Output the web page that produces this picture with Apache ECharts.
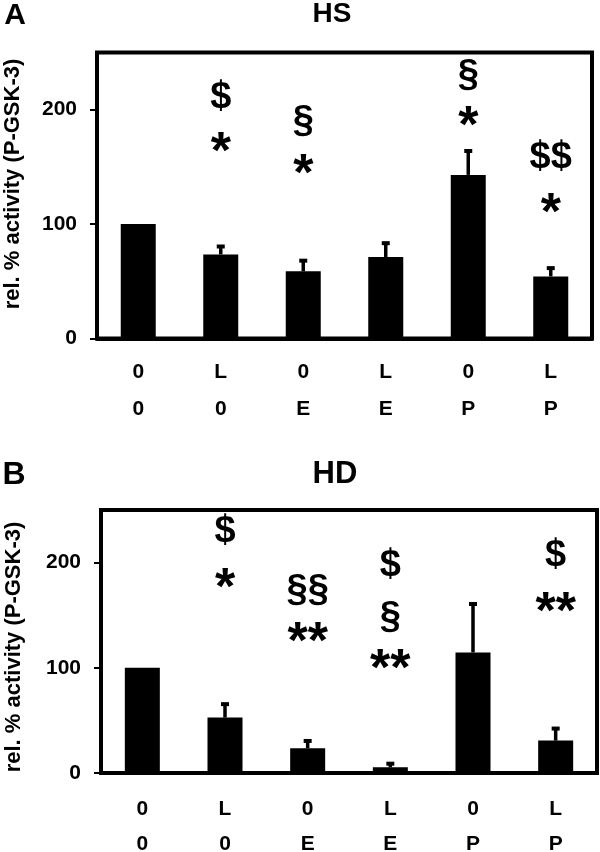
<!DOCTYPE html>
<html>
<head>
<meta charset="utf-8">
<script src="https://cdn.jsdelivr.net/npm/echarts@6/dist/echarts.min.js"></script>
<style>
  html, body { margin: 0; padding: 0; background: #fff; }
  #chart { width: 600px; height: 852px; }
</style>
</head>
<body>
<div id="chart"></div>
<script>
// x labels, two rows under each bar
const row1 = ['0', 'L', '0', 'L', '0', 'L'];
const row2 = ['0', '0', 'E', 'E', 'P', 'P'];
const yTicks = [0, 100, 200];

// panel A (HS)
const hsMean = [100, 73.5, 58.7, 71.2, 143, 54.3];
const hsSem = [0, 7.8, 10.2, 13, 21.8, 8.1];
const hsMarkCat = [1, 1, 2, 2, 4, 4, 5, 5];
const hsMarkText = ['$', '*', '§', '*', '§', '*', '$$', '*'];
const hsMarkY = [211, 172, 190, 153, 230, 195, 158, 119];

// panel B (HD)
const hdMean = [100, 52.7, 23.5, 5.4, 114.6, 30.8];
const hdSem = [0, 13.7, 7.9, 4.4, 47, 12.4];
const hdMarkCat = [1, 1, 2, 2, 3, 3, 3, 5, 5];
const hdMarkText = ['$', '*', '§§', '**', '$', '§', '**', '$', '**'];
const hdMarkY = [230, 186, 173, 134, 197, 148, 109, 207, 163];

const FONT = '"Liberation Sans", Arial, sans-serif';
const cats = row1.map((a, i) => a + '\n' + row2[i]);

const chart = echarts.init(document.getElementById('chart'), null, { renderer: 'canvas' });

// whisker up from bar top + small square cap
function errItem(params, api) {
  const e = api.value(2);
  if (!e) return null;
  const i = api.value(0), m = api.value(1);
  const p0 = api.coord([i, m]);
  const p1 = api.coord([i, m + e]);
  return {
    type: 'group',
    children: [
      { type: 'line', shape: { x1: p0[0], y1: p0[1], x2: p1[0], y2: p1[1] }, style: { stroke: '#000', lineWidth: 3.5 } },
      { type: 'rect', shape: { x: p1[0] - 4, y: p1[1] - 1, width: 8, height: 4 }, style: { fill: '#000' } }
    ]
  };
}

function markItem(texts) {
  return function (params, api) {
    const p = api.coord([api.value(0), api.value(1)]);
    const t = texts[params.dataIndex];
    const star = t.indexOf('*') >= 0;
    const size = star ? 52 : 38;
    return {
      type: 'text',
      style: {
        text: t, x: p[0], y: p[1] + (star ? 12 : 0),
        font: 'bold ' + size + 'px ' + FONT, fill: '#000',
        align: 'center', verticalAlign: 'middle',
        textAlign: 'center', textVerticalAlign: 'middle'
      }
    };
  };
}

function xAxisCfg(idx, margin, lh) {
  return {
    type: 'category', gridIndex: idx, data: cats,
    axisLine: { show: true, lineStyle: { color: '#000', width: 4 } },
    axisTick: { show: false },
    axisLabel: { margin: margin, color: '#000', fontFamily: FONT, fontWeight: 'bold', fontSize: 21, lineHeight: lh }
  };
}
function yAxisCfg(idx) {
  return {
    type: 'value', gridIndex: idx, min: 0, max: 250, interval: 50,
    splitLine: { show: false },
    axisLine: { show: false },
    axisTick: { show: true, length: 7, lineStyle: { color: '#000', width: 2 }, customValues: yTicks },
    axisLabel: { margin: 20, color: '#000', fontFamily: FONT, fontWeight: 'bold', fontSize: 21, customValues: yTicks }
  };
}

function panelSeries(idx, mean, sem, markCat, markText, markY) {
  return [
    { type: 'bar', xAxisIndex: idx, yAxisIndex: idx, data: mean, barWidth: 35, itemStyle: { color: '#000' }, silent: true },
    { type: 'custom', xAxisIndex: idx, yAxisIndex: idx, z: 3, renderItem: errItem,
      data: mean.map((m, i) => [i, m, sem[i]]) },
    { type: 'custom', xAxisIndex: idx, yAxisIndex: idx, z: 4, renderItem: markItem(markText),
      data: markCat.map((c, i) => [c, markY[i]]) }
  ];
}

function txt(text, x, y, size, rot) {
  return {
    type: 'text', x: x, y: y, rotation: rot || 0,
    style: { text: text, x: 0, y: 0, font: 'bold ' + size + 'px ' + FONT, fill: '#000',
      textAlign: 'center', textVerticalAlign: 'middle' }
  };
}

const option = {
  animation: false,
  backgroundColor: '#fff',
  grid: [
    { left: 97, right: 8, top: 52.5, height: 286, outerBoundsMode: 'none', show: true, borderColor: '#000', borderWidth: 4, backgroundColor: 'transparent' },
    { left: 101, right: 3, top: 510, height: 263, outerBoundsMode: 'none', show: true, borderColor: '#000', borderWidth: 4, backgroundColor: 'transparent' }
  ],
  xAxis: [xAxisCfg(0, 15, 37), xAxisCfg(1, 19, 35)],
  yAxis: [yAxisCfg(0), yAxisCfg(1)],
  series: [
    ...panelSeries(0, hsMean, hsSem, hsMarkCat, hsMarkText, hsMarkY),
    ...panelSeries(1, hdMean, hdSem, hdMarkCat, hdMarkText, hdMarkY)
  ],
  graphic: [
    txt('A', 15, 16, 30),
    txt('HS', 332, 14, 28),
    txt('rel. % activity (P-GSK-3)', 13, 184, 22, Math.PI / 2),
    txt('B', 14, 475, 32),
    txt('HD', 335, 474, 31),
    txt('rel. % activity (P-GSK-3)', 14, 647, 22, Math.PI / 2)
  ]
};

chart.setOption(option);
</script>
</body>
</html>
